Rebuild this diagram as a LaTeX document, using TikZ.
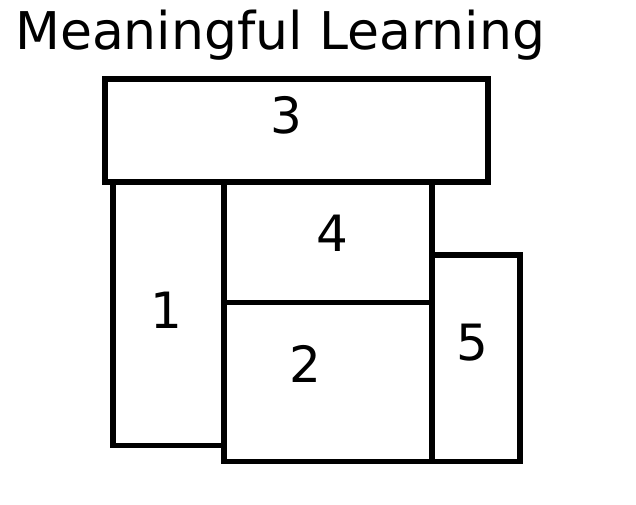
\documentclass[tikz,border=0pt]{standalone}
\usepackage{fontspec}
\setmainfont{DejaVu Sans}
\begin{document}
\begin{tikzpicture}[x=1pt,y=-1pt,
    box/.style={draw,line width=5.5pt,line join=miter},
    num/.style={font=\fontsize{50}{50}\selectfont,inner sep=0pt}]
  \useasboundingbox (0,0) rectangle (636,504);
  \node[anchor=base west,inner sep=0pt,font=\fontsize{52}{52}\selectfont] (title) at (15,49) {Meaningful Learning};
  \draw[box] (105,79) rectangle (488,182);
  \draw[box] (113,182) rectangle (224,445.5);
  \draw[box] (224,182) rectangle (432,302.5);
  \draw[box] (224,302.5) rectangle (432,461.5);
  \draw[box] (432,255) rectangle (520,461.5);
  \draw
    (286,115) node[num] (n3){3}
    (166,310) node[num] (n1){1}
    (332,233) node[num] (n4){4}
    (305,364) node[num] (n2){2}
    (472,343) node[num] (n5){5};
\end{tikzpicture}
\end{document}
